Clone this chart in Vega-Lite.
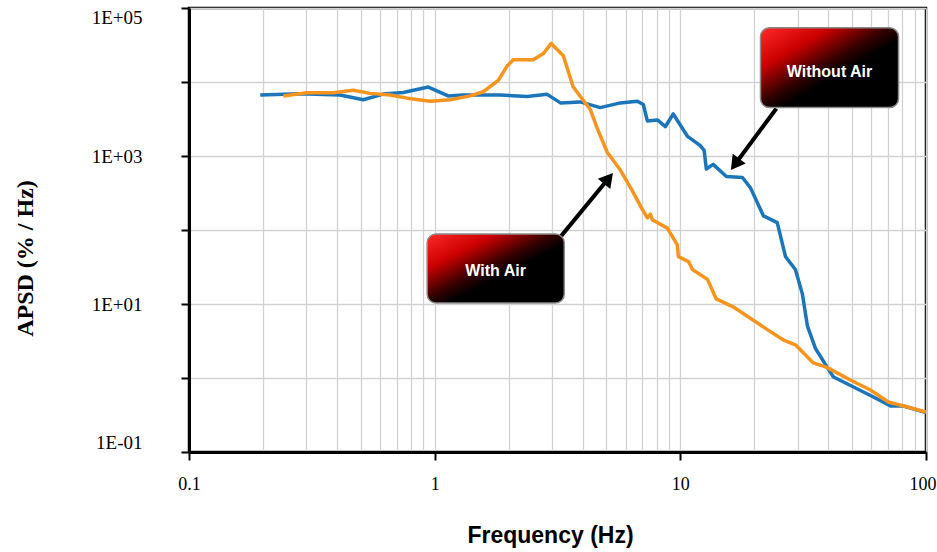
{
  "$schema": "https://vega.github.io/schema/vega-lite/v6.json",
  "autosize": {"type": "none"},
  "padding": {"left": 189, "top": 8, "right": 11, "bottom": 100},
  "width": 737,
  "height": 444,
  "background": "white",
  "datasets": {
    "curves": [
      {"series": "Without Air", "freq": 0.195, "apsd": 6670},
      {"series": "Without Air", "freq": 0.283, "apsd": 6920},
      {"series": "Without Air", "freq": 0.412, "apsd": 6670},
      {"series": "Without Air", "freq": 0.512, "apsd": 5760},
      {"series": "Without Air", "freq": 0.617, "apsd": 6870},
      {"series": "Without Air", "freq": 0.745, "apsd": 7230},
      {"series": "Without Air", "freq": 0.942, "apsd": 8550},
      {"series": "Without Air", "freq": 1.135, "apsd": 6490},
      {"series": "Without Air", "freq": 1.306, "apsd": 6670},
      {"series": "Without Air", "freq": 1.848, "apsd": 6670},
      {"series": "Without Air", "freq": 2.38, "apsd": 6370},
      {"series": "Without Air", "freq": 2.87, "apsd": 6810},
      {"series": "Without Air", "freq": 3.25, "apsd": 5220},
      {"series": "Without Air", "freq": 3.91, "apsd": 5380},
      {"series": "Without Air", "freq": 4.72, "apsd": 4510},
      {"series": "Without Air", "freq": 5.70, "apsd": 5220},
      {"series": "Without Air", "freq": 6.68, "apsd": 5500},
      {"series": "Without Air", "freq": 7.07, "apsd": 4970},
      {"series": "Without Air", "freq": 7.34, "apsd": 2980},
      {"series": "Without Air", "freq": 8.06, "apsd": 3070},
      {"series": "Without Air", "freq": 8.69, "apsd": 2500},
      {"series": "Without Air", "freq": 9.36, "apsd": 3700},
      {"series": "Without Air", "freq": 10.67, "apsd": 1860},
      {"series": "Without Air", "freq": 12.06, "apsd": 1380},
      {"series": "Without Air", "freq": 12.5, "apsd": 1190},
      {"series": "Without Air", "freq": 12.76, "apsd": 666},
      {"series": "Without Air", "freq": 13.6, "apsd": 770},
      {"series": "Without Air", "freq": 15.4, "apsd": 527},
      {"series": "Without Air", "freq": 17.9, "apsd": 512},
      {"series": "Without Air", "freq": 19.3, "apsd": 371},
      {"series": "Without Air", "freq": 21.8, "apsd": 155},
      {"series": "Without Air", "freq": 24.8, "apsd": 126},
      {"series": "Without Air", "freq": 26.8, "apsd": 43.6},
      {"series": "Without Air", "freq": 29.4, "apsd": 29.3},
      {"series": "Without Air", "freq": 31.4, "apsd": 13.6},
      {"series": "Without Air", "freq": 32.9, "apsd": 5.07},
      {"series": "Without Air", "freq": 35.5, "apsd": 2.5},
      {"series": "Without Air", "freq": 39.7, "apsd": 1.38},
      {"series": "Without Air", "freq": 42.0, "apsd": 1.03},
      {"series": "Without Air", "freq": 50.7, "apsd": 0.756},
      {"series": "Without Air", "freq": 61.1, "apsd": 0.554},
      {"series": "Without Air", "freq": 71.7, "apsd": 0.418},
      {"series": "Without Air", "freq": 81.0, "apsd": 0.418},
      {"series": "Without Air", "freq": 100, "apsd": 0.34},
      {"series": "With Air", "freq": 0.242, "apsd": 6490},
      {"series": "With Air", "freq": 0.302, "apsd": 7170},
      {"series": "With Air", "freq": 0.386, "apsd": 7170},
      {"series": "With Air", "freq": 0.466, "apsd": 7730},
      {"series": "With Air", "freq": 0.546, "apsd": 7020},
      {"series": "With Air", "freq": 0.659, "apsd": 6670},
      {"series": "With Air", "freq": 0.773, "apsd": 6050},
      {"series": "With Air", "freq": 0.959, "apsd": 5500},
      {"series": "With Air", "freq": 1.157, "apsd": 5760},
      {"series": "With Air", "freq": 1.395, "apsd": 6490},
      {"series": "With Air", "freq": 1.577, "apsd": 7380},
      {"series": "With Air", "freq": 1.815, "apsd": 10500},
      {"series": "With Air", "freq": 1.974, "apsd": 16500},
      {"series": "With Air", "freq": 2.089, "apsd": 19950},
      {"series": "With Air", "freq": 2.52, "apsd": 19950},
      {"series": "With Air", "freq": 2.77, "apsd": 24200},
      {"series": "With Air", "freq": 2.98, "apsd": 33200},
      {"series": "With Air", "freq": 3.34, "apsd": 22600},
      {"series": "With Air", "freq": 3.66, "apsd": 8630},
      {"series": "With Air", "freq": 3.91, "apsd": 6420},
      {"series": "With Air", "freq": 4.30, "apsd": 4250},
      {"series": "With Air", "freq": 4.59, "apsd": 2360},
      {"series": "With Air", "freq": 5.04, "apsd": 1125},
      {"series": "With Air", "freq": 5.70, "apsd": 646},
      {"series": "With Air", "freq": 6.37, "apsd": 340},
      {"series": "With Air", "freq": 7.00, "apsd": 190},
      {"series": "With Air", "freq": 7.34, "apsd": 146},
      {"series": "With Air", "freq": 7.55, "apsd": 164},
      {"series": "With Air", "freq": 7.69, "apsd": 138},
      {"series": "With Air", "freq": 8.85, "apsd": 106},
      {"series": "With Air", "freq": 9.72, "apsd": 63},
      {"series": "With Air", "freq": 9.82, "apsd": 43.6},
      {"series": "With Air", "freq": 10.8, "apsd": 37.4},
      {"series": "With Air", "freq": 11.2, "apsd": 29.3},
      {"series": "With Air", "freq": 12.9, "apsd": 21.5},
      {"series": "With Air", "freq": 14.0, "apsd": 11.7},
      {"series": "With Air", "freq": 16.4, "apsd": 9.16},
      {"series": "With Air", "freq": 20.6, "apsd": 5.55},
      {"series": "With Air", "freq": 22.6, "apsd": 4.51},
      {"series": "With Air", "freq": 26.3, "apsd": 3.26},
      {"series": "With Air", "freq": 29.4, "apsd": 2.81},
      {"series": "With Air", "freq": 34.8, "apsd": 1.6},
      {"series": "With Air", "freq": 39.7, "apsd": 1.38},
      {"series": "With Air", "freq": 49.2, "apsd": 0.94},
      {"series": "With Air", "freq": 59.4, "apsd": 0.689},
      {"series": "With Air", "freq": 70.3, "apsd": 0.474},
      {"series": "With Air", "freq": 84.1, "apsd": 0.406},
      {"series": "With Air", "freq": 100, "apsd": 0.347}
    ],
    "boxes": [
      {"label": "With Air", "freq": 0.932, "freq2": 3.37, "apsd": 88.5, "apsd2": 10.3, "tfreq": 1.77, "tapsd": 28},
      {"label": "Without Air", "freq": 21.2, "freq2": 77.3, "apsd": 54100, "apsd2": 4510, "tfreq": 40.5, "tapsd": 13600}
    ],
    "arrows": [
      {"label": "With Air", "freq": 3.25, "apsd": 80.7, "freq2": 5.10, "apsd2": 498},
      {"label": "Without Air", "freq": 24.6, "apsd": 4380, "freq2": 16.7, "apsd2": 773}
    ]
  },
  "layer": [
    {
      "data": {"name": "curves"},
      "mark": {"type": "line", "strokeWidth": 3.5, "strokeJoin": "round"},
      "encoding": {
        "x": {
          "field": "freq", "type": "quantitative", "title": "Frequency (Hz)",
          "scale": {"type": "log", "domain": [0.1, 100], "nice": false},
          "axis": {
            "values": [0.1,0.2,0.3,0.4,0.5,0.6,0.7,0.8,0.9,1,2,3,4,5,6,7,8,9,10,20,30,40,50,60,70,80,90,100],
            "labelExpr": "abs(log(datum.value)/LN10 - round(log(datum.value)/LN10)) < 0.01 ? datum.label : ''",
            "tickOpacity": {"condition": {"test": "abs(log(datum.value)/LN10 - round(log(datum.value)/LN10)) < 0.01", "value": 1}, "value": 0},
            "labelAlign": {"condition": {"test": "datum.value >= 99", "value": "right"}, "value": "center"},
            "labelOffset": {"condition": {"test": "datum.value >= 99", "value": 10}, "value": 0},
            "tickSize": 8,
            "labelPadding": 15,
            "labelFont": "Liberation Serif",
            "labelFontSize": 18,
            "labelFlush": false,
            "labelOverlap": false,
            "titleFont": "Liberation Sans",
            "titleFontSize": 23,
            "titleFontWeight": "bold",
            "titleX": 361,
            "titleY": 83,
            "titleBaseline": "middle",
            "titleAlign": "center"
          }
        },
        "y": {
          "field": "apsd", "type": "quantitative", "title": "APSD (% / Hz)",
          "scale": {"type": "log", "domain": [0.1, 100000], "nice": false},
          "axis": {
            "values": [0.1, 1, 10, 100, 1000, 10000, 100000],
            "labelExpr": "(round(log(datum.value)/LN10) % 2 != 0) ? ('1E' + (datum.value < 1 ? '-' : '+') + '0' + abs(round(log(datum.value)/LN10))) : ''",
            "tickSize": 8,
            "labelPadding": 39,
            "labelFont": "Liberation Serif",
            "labelFontSize": 19,
            "labelFlush": true,
            "labelOverlap": false,
            "titleFont": "Liberation Serif",
            "titleFontSize": 24,
            "titleFontWeight": "bold",
            "titleX": -164,
            "titleY": 250,
            "titleAngle": -90,
            "titleBaseline": "middle",
            "titleAlign": "center"
          }
        },
        "color": {
          "field": "series", "type": "nominal",
          "scale": {"domain": ["Without Air", "With Air"], "range": ["#1b75bb", "#f7941d"]},
          "legend": null
        },
        "detail": {"field": "series"}
      }
    },
    {
      "data": {"name": "arrows"},
      "mark": {"type": "rule", "color": "#000", "strokeWidth": 4},
      "encoding": {
        "x": {"field": "freq", "type": "quantitative", "title": "Frequency (Hz)"},
        "y": {"field": "apsd", "type": "quantitative", "title": "APSD (% / Hz)"},
        "x2": {"field": "freq2"},
        "y2": {"field": "apsd2"}
      }
    },
    {
      "data": {"name": "boxes"},
      "mark": {
        "type": "rect",
        "cornerRadius": 9,
        "stroke": "#8a8a8a",
        "strokeWidth": 1.5,
        "fill": {
          "gradient": "linear", "x1": 0, "y1": 0, "x2": 1, "y2": 1,
          "stops": [
            {"offset": 0, "color": "#ff2a2a"},
            {"offset": 0.25, "color": "#cc0000"},
            {"offset": 0.47, "color": "#300000"},
            {"offset": 0.58, "color": "#000000"},
            {"offset": 1, "color": "#000000"}
          ]
        }
      },
      "encoding": {
        "x": {"field": "freq", "type": "quantitative", "title": "Frequency (Hz)"},
        "x2": {"field": "freq2"},
        "y": {"field": "apsd", "type": "quantitative", "title": "APSD (% / Hz)"},
        "y2": {"field": "apsd2"}
      }
    },
    {
      "data": {"name": "boxes"},
      "mark": {"type": "text", "color": "white", "font": "Liberation Sans", "fontSize": 16, "fontWeight": "bold", "align": "center", "baseline": "middle"},
      "encoding": {
        "x": {"field": "tfreq", "type": "quantitative", "title": "Frequency (Hz)"},
        "y": {"field": "tapsd", "type": "quantitative", "title": "APSD (% / Hz)"},
        "text": {"field": "label"}
      }
    },
    {
      "data": {"name": "arrows"},
      "transform": [{"filter": "datum.label == 'With Air'"}],
      "mark": {"type": "point", "shape": "triangle-up", "filled": true, "color": "#000", "opacity": 1, "size": 260, "angle": 39.5},
      "encoding": {
        "x": {"field": "freq2", "type": "quantitative", "title": "Frequency (Hz)"},
        "y": {"field": "apsd2", "type": "quantitative", "title": "APSD (% / Hz)"}
      }
    },
    {
      "data": {"name": "arrows"},
      "transform": [{"filter": "datum.label == 'Without Air'"}],
      "mark": {"type": "point", "shape": "triangle-up", "filled": true, "color": "#000", "opacity": 1, "size": 260, "angle": 216.6},
      "encoding": {
        "x": {"field": "freq2", "type": "quantitative", "title": "Frequency (Hz)"},
        "y": {"field": "apsd2", "type": "quantitative", "title": "APSD (% / Hz)"}
      }
    }
  ],
  "config": {
    "view": {"stroke": "#000", "strokeWidth": 2.5},
    "axis": {
      "domainColor": "#000",
      "domainWidth": 3,
      "tickColor": "#000",
      "tickWidth": 2,
      "gridColor": "#d2d2d2",
      "gridWidth": 1.3,
      "labelColor": "#000",
      "titleColor": "#000"
    }
  }
}
